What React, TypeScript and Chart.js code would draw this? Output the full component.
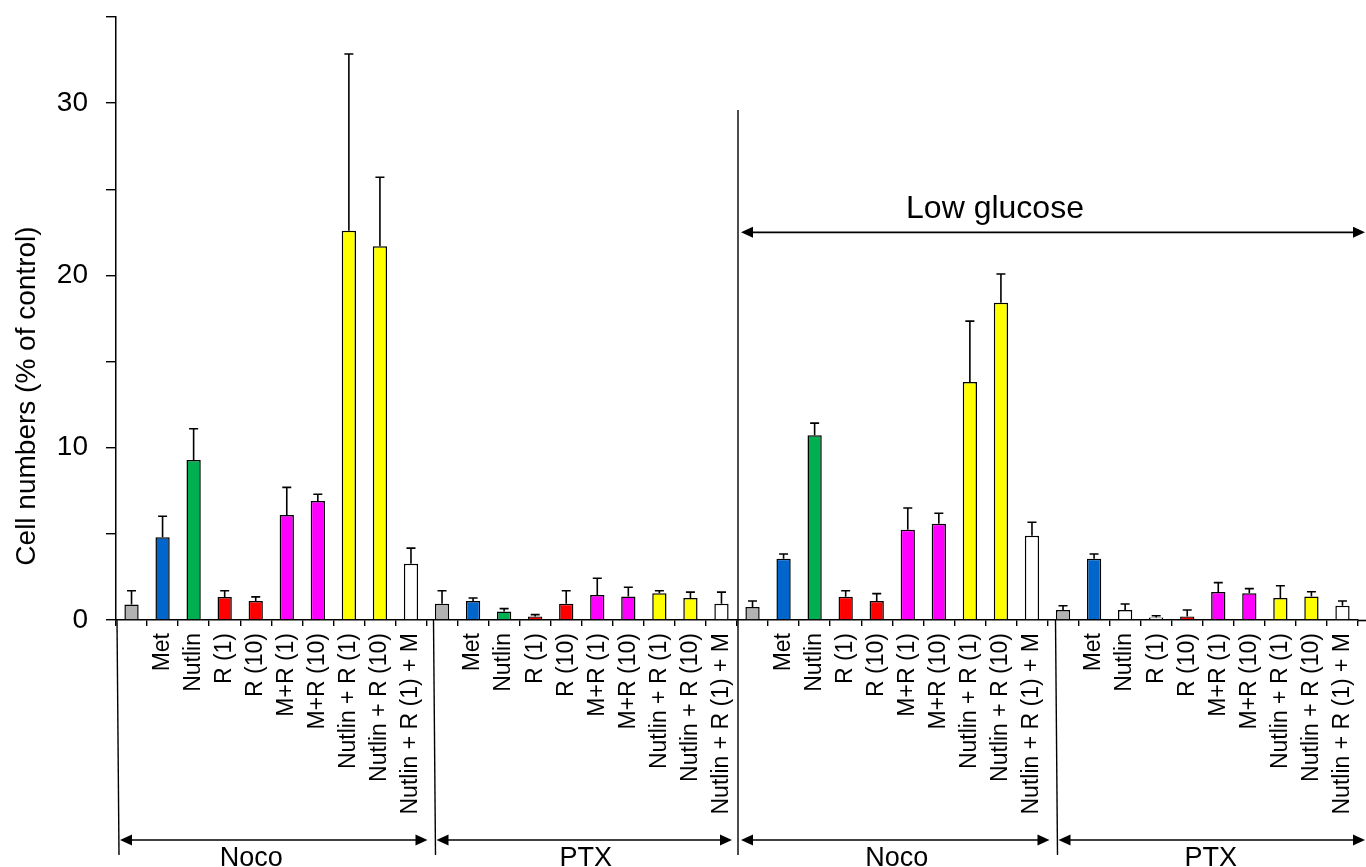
import React, { useEffect, useRef } from 'react';
import { Chart, registerables } from 'chart.js';

Chart.register(...registerables);

const FONT = '"Liberation Sans", Arial, sans-serif';

const groupNames = ['Noco', 'PTX', 'Noco', 'PTX'];
const treatments = ['', 'Met', 'Nutlin', 'R (1)', 'R (10)', 'M+R (1)', 'M+R (10)', 'Nutlin + R (1)', 'Nutlin + R (10)', 'Nutlin + R (1) + M'];

const nocoValues = [0.9, 4.8, 9.28, 1.33, 1.1, 6.1, 6.9, 22.6, 21.7, 3.27];
const nocoErrors = [0.8, 1.22, 1.82, 0.37, 0.24, 1.6, 0.4, 10.25, 4.0, 0.9];
const ptxValues = [0.95, 1.1, 0.5, 0.21, 0.95, 1.45, 1.37, 1.55, 1.28, 0.95];
const ptxErrors = [0.75, 0.18, 0.16, 0.1, 0.75, 0.97, 0.53, 0.15, 0.34, 0.67];
const lowGlcNocoValues = [0.75, 3.56, 10.72, 1.35, 1.1, 5.24, 5.59, 13.81, 18.41, 4.89];
const lowGlcNocoErrors = [0.35, 0.27, 0.71, 0.35, 0.43, 1.26, 0.61, 3.54, 1.67, 0.78];
const lowGlcPtxValues = [0.58, 3.56, 0.58, 0.15, 0.21, 1.62, 1.55, 1.28, 1.37, 0.83];
const lowGlcPtxErrors = [0.25, 0.27, 0.35, 0.1, 0.37, 0.55, 0.27, 0.71, 0.27, 0.27];

const GRAY = '#b2b2b2';
const BLUE = '#0066cc';
const GREEN = '#00b050';
const RED = '#ff0000';
const MAGENTA = '#ff00ff';
const YELLOW = '#ffff00';
const WHITE = '#ffffff';

const stdColors = [GRAY, BLUE, GREEN, RED, RED, MAGENTA, MAGENTA, YELLOW, YELLOW, WHITE];
const lowGlcPtxColors = [GRAY, BLUE, WHITE, WHITE, RED, MAGENTA, MAGENTA, YELLOW, YELLOW, WHITE];

const yTicks = [0, 5, 10, 15, 20, 25, 30, 35];
const yLabelled = [0, 10, 20, 30];

const yTitle = 'Cell numbers (% of control)';
const yTitleCenterValue = 13.0;
const lowGlucoseLabel = 'Low glucose';
const lowGlucoseArrowValue = 22.5;
const lowGlucoseTextValue = 24.0;
const lowGlucoseLineTopValue = 29.6;

const allValues = [...nocoValues, ...ptxValues, ...lowGlcNocoValues, ...lowGlcPtxValues];
const allErrors = [...nocoErrors, ...ptxErrors, ...lowGlcNocoErrors, ...lowGlcPtxErrors];
const allColors = [...stdColors, ...stdColors, ...stdColors, ...lowGlcPtxColors];
const allLabels = [...treatments, ...treatments, ...treatments, ...treatments];

function drawArrowHead(ctx: CanvasRenderingContext2D, x: number, y: number, dir: number) {
  const len = 12;
  const half = 5.5;
  ctx.beginPath();
  ctx.moveTo(x, y);
  ctx.lineTo(x - dir * len, y - half);
  ctx.lineTo(x - dir * len, y + half);
  ctx.closePath();
  ctx.fill();
}

function drawDoubleArrow(ctx: CanvasRenderingContext2D, x1: number, x2: number, y: number) {
  ctx.beginPath();
  ctx.moveTo(x1 + 4, y);
  ctx.lineTo(x2 - 4, y);
  ctx.stroke();
  drawArrowHead(ctx, x1, y, -1);
  drawArrowHead(ctx, x2, y, 1);
}

const errorBarPlugin = {
  id: 'errorBars',
  afterDatasetsDraw(chart: any) {
    const ctx = chart.ctx as CanvasRenderingContext2D;
    const meta = chart.getDatasetMeta(0);
    const yScale = chart.scales.y;
    ctx.save();
    ctx.strokeStyle = '#000';
    ctx.lineWidth = 1.6;
    meta.data.forEach((el: any, i: number) => {
      const v = allValues[i];
      const e = allErrors[i];
      const yTop = yScale.getPixelForValue(v + e);
      const yBar = yScale.getPixelForValue(v);
      const x = el.x;
      ctx.beginPath();
      ctx.moveTo(x, yBar);
      ctx.lineTo(x, yTop);
      ctx.moveTo(x - 4.5, yTop);
      ctx.lineTo(x + 4.5, yTop);
      ctx.stroke();
    });
    ctx.restore();
  },
};

const annotationPlugin = {
  id: 'groupAnnotations',
  afterDraw(chart: any) {
    const ctx = chart.ctx as CanvasRenderingContext2D;
    const xScale = chart.scales.x;
    const yScale = chart.scales.y;
    const W = chart.width;
    const H = chart.height;
    const step = xScale.getPixelForValue(1) - xScale.getPixelForValue(0);
    const sepOffsets = [1, 7, 1, 8];
    const seps = [0, 10, 20, 30].map((idx, k) => xScale.getPixelForValue(idx) - step / 2 + sepOffsets[k]);
    const bottom = chart.chartArea.bottom;
    const arrowY = H - 27;
    const lineBottom = H - 12;

    ctx.save();
    ctx.strokeStyle = '#000';
    ctx.fillStyle = '#000';
    ctx.lineWidth = 1.6;

    // extend x axis line to the right edge
    ctx.beginPath();
    ctx.moveTo(chart.chartArea.right, bottom + 0.5);
    ctx.lineTo(W, bottom + 0.5);
    ctx.stroke();

    // separators
    ctx.lineWidth = 1.4;
    seps.forEach((sx, k) => {
      ctx.beginPath();
      const top = k === 2 ? yScale.getPixelForValue(lowGlucoseLineTopValue) : bottom;
      ctx.moveTo(sx, top);
      ctx.lineTo(sx + (k === 2 ? 0 : 2), lineBottom);
      ctx.stroke();
    });

    // group arrows and names
    ctx.lineWidth = 1.7;
    const ends = [...seps, W];
    ctx.font = `27px ${FONT}`;
    ctx.textAlign = 'center';
    ctx.textBaseline = 'alphabetic';
    for (let g = 0; g < 4; g++) {
      const x1 = ends[g] + 3;
      const x2 = g === 3 ? W - 1 : ends[g + 1] - 6;
      drawDoubleArrow(ctx, x1, x2, arrowY);
      const cx = (ends[g] + ends[g + 1]) / 2 + (g === 0 ? -24 : 0);
      ctx.fillText(groupNames[g], cx, H - 1);
    }

    // low glucose annotation
    const lgY = yScale.getPixelForValue(lowGlucoseArrowValue);
    drawDoubleArrow(ctx, seps[2] + 3, W - 1, lgY);
    ctx.font = `32px ${FONT}`;
    ctx.fillText(lowGlucoseLabel, seps[2] + 257, yScale.getPixelForValue(lowGlucoseTextValue) + 11);

    // y axis title
    ctx.save();
    ctx.translate(27, yScale.getPixelForValue(yTitleCenterValue));
    ctx.rotate(-Math.PI / 2);
    ctx.font = `28px ${FONT}`;
    ctx.textAlign = 'center';
    ctx.textBaseline = 'middle';
    ctx.fillText(yTitle, 0, 0);
    ctx.restore();

    ctx.restore();
  },
};

export default function App() {
  const canvasRef = useRef<HTMLCanvasElement | null>(null);

  useEffect(() => {
    document.body.style.margin = '0';
    const canvas = canvasRef.current;
    if (!canvas) return;
    const chart = new Chart(canvas, {
      type: 'bar',
      data: {
        labels: allLabels,
        datasets: [
          {
            data: allValues,
            backgroundColor: allColors,
            borderColor: '#000',
            borderWidth: 1.5,
            barPercentage: 0.46,
            categoryPercentage: 1.0,
          },
        ],
      },
      options: {
        responsive: false,
        animation: false,
        devicePixelRatio: 1,
        layout: { padding: { left: 0, right: 8, top: 17, bottom: 0 } },
        plugins: {
          legend: { display: false },
          tooltip: { enabled: false },
        },
        scales: {
          x: {
            type: 'category',
            offset: true,
            border: { display: true, color: '#000', width: 1.5 },
            grid: {
              display: true,
              offset: true,
              drawOnChartArea: false,
              drawTicks: true,
              tickLength: 6,
              color: '#000',
              lineWidth: 1.4,
            },
            ticks: {
              autoSkip: false,
              minRotation: 90,
              maxRotation: 90,
              color: '#000',
              padding: 7,
              font: { family: FONT, size: 23 },
            },
            afterFit: (scale: any) => {
              scale.height = 867 - 620;
              scale.paddingLeft = 0;
              scale.paddingRight = 0;
            },
          },
          y: {
            min: 0,
            max: 35,
            border: { display: true, color: '#000', width: 1.5 },
            grid: {
              display: true,
              drawOnChartArea: false,
              drawTicks: true,
              tickLength: 10,
              color: '#000',
              lineWidth: 1.4,
            },
            afterBuildTicks: (scale: any) => {
              scale.ticks = yTicks.map((v) => ({ value: v }));
            },
            ticks: {
              color: '#000',
              padding: 18,
              font: { family: FONT, size: 28 },
              callback: (value: any) => (yLabelled.includes(Number(value)) ? String(value) : ''),
            },
            title: { display: false },
            afterFit: (scale: any) => {
              scale.width = 116;
              scale.paddingTop = 0;
              scale.paddingBottom = 0;
            },
          },
        },
      },
      plugins: [errorBarPlugin, annotationPlugin],
    });
    return () => chart.destroy();
  }, []);

  return (
    <div style={{ position: 'absolute', left: 0, top: 0, width: 1366, height: 867, background: '#fff' }}>
      <canvas ref={canvasRef} width={1366} height={867} style={{ width: 1366, height: 867 }} />
    </div>
  );
}
